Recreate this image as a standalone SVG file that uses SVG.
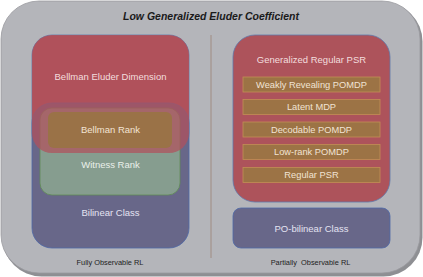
<svg xmlns="http://www.w3.org/2000/svg" width="423" height="277" viewBox="0 0 423 277">
<defs>
<style>
.t{font-family:"Liberation Sans",Arial,sans-serif;text-anchor:middle;}
.lbl{font-size:9.5px;}
.red{fill:#ad535b;stroke:#5f79ab;stroke-width:0.8;}
.bar{fill:#9c7345;stroke:#c28e55;stroke-width:0.8;}
.bartxt{font-size:9.3px;fill:#f1e3d4;}
</style>
</defs>
<rect x="2.5" y="2.5" width="420" height="274" rx="39" fill="#8e8f93"/>
<rect id="frame" x="1" y="1" width="419" height="272" rx="38" fill="#b4b5ba" stroke="#9a9ba0" stroke-width="0.8"/>
<text class="t" x="211" y="19.5" font-size="10.5" font-weight="bold" font-style="italic" fill="#1a1a1a">Low Generalized Eluder Coefficient</text>
<line x1="211" y1="35" x2="211" y2="258" stroke="#a08c82" stroke-width="1"/>

<g id="bellman-eluder-base">
<rect class="red" x="32" y="35" width="157" height="118" rx="20"/>
</g>
<g id="bilinear">
<rect x="32" y="103" width="157" height="145" rx="20" fill="#686789" stroke="#4f6aa8" stroke-width="0.8"/>
<text class="t lbl" x="110.5" y="215.5" fill="#e4e3f2">Bilinear Class</text>
</g>
<g id="witness">
<rect x="40" y="108" width="140" height="87" rx="12" fill="#869d8f" stroke="#5f8c55" stroke-width="0.8"/>
<text class="t lbl" x="110.5" y="167.5" fill="#eaf0ea">Witness Rank</text>
</g>
<g id="bellman-eluder">
<rect x="32" y="35" width="157" height="118" rx="20" fill="#b2505c" opacity="0.72"/>
<text class="t lbl" x="110.5" y="80.3" fill="#f3dede">Bellman Eluder Dimension</text>
</g>
<g id="bellman-rank">
<rect x="48" y="112" width="124" height="36" rx="6" fill="#9a7247"/>
<text class="t lbl" x="110.5" y="133.3" fill="#f3e4d4">Bellman Rank</text>
</g>

<g id="gen-regular-psr">
<rect class="red" x="233" y="35" width="157" height="167" rx="22"/>
<text class="t lbl" x="311.5" y="62.8" fill="#f3dede">Generalized Regular PSR</text>
</g>
<g id="weakly-revealing">
<rect class="bar" x="243" y="77" width="137" height="15"/>
<text class="t bartxt" x="311.5" y="87.8">Weakly Revealing POMDP</text>
</g>
<g id="latent-mdp">
<rect class="bar" x="243" y="99.5" width="137" height="15"/>
<text class="t bartxt" x="311.5" y="110.3">Latent MDP</text>
</g>
<g id="decodable">
<rect class="bar" x="243" y="122" width="137" height="15"/>
<text class="t bartxt" x="311.5" y="132.8">Decodable POMDP</text>
</g>
<g id="low-rank">
<rect class="bar" x="243" y="144.5" width="137" height="15"/>
<text class="t bartxt" x="311.5" y="155.3">Low-rank POMDP</text>
</g>
<g id="regular-psr">
<rect class="bar" x="243" y="167.5" width="137" height="15"/>
<text class="t bartxt" x="311.5" y="178.3">Regular PSR</text>
</g>
<g id="po-bilinear">
<rect x="233" y="208" width="157" height="40" rx="8" fill="#686789" stroke="#4f6aa8" stroke-width="0.8"/>
<text class="t lbl" x="311.5" y="232.3" fill="#e4e3f2">PO-bilinear Class</text>
</g>

<text class="t" x="110" y="265.3" font-size="7.4" fill="#222">Fully Observable RL</text>
<text class="t" x="310.5" y="265.3" font-size="7.4" fill="#222" xml:space="preserve">Partially  Observable RL</text>
<g id="connectors"></g>
</svg>
